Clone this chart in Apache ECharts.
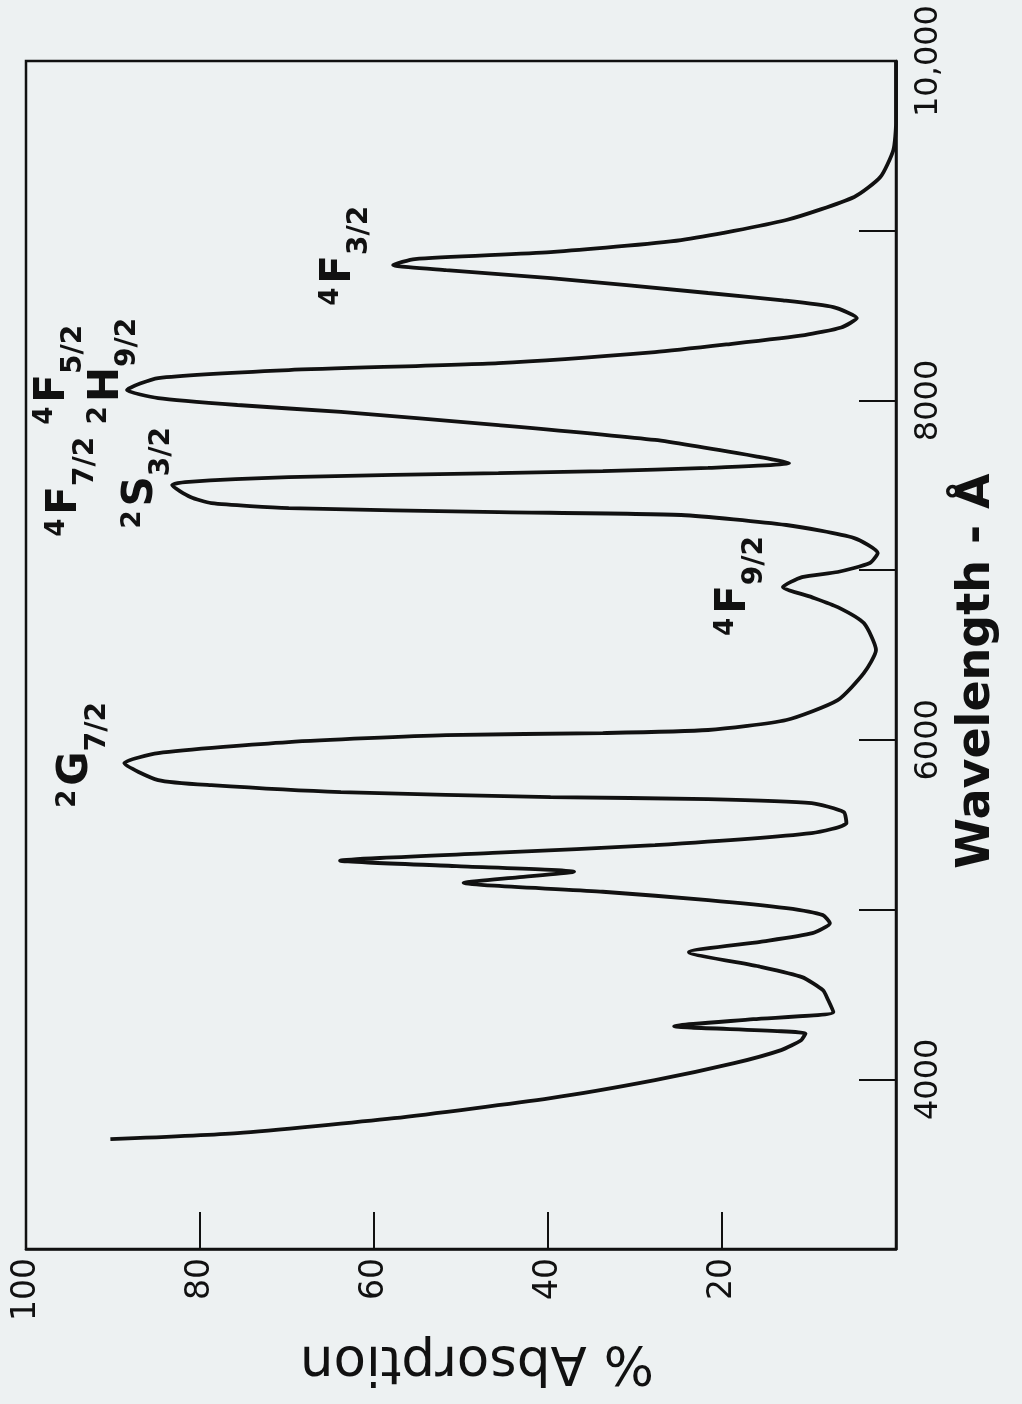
<!DOCTYPE html>
<html>
<head>
<meta charset="utf-8">
<script src="https://cdn.jsdelivr.net/npm/echarts@6/dist/echarts.min.js"></script>
<style>
  html, body { margin: 0; padding: 0; background: #edf1f2; }
  #chart { width: 1022px; height: 1404px; }
</style>
</head>
<body>
<div id="chart"></div>
<script>
// Spectrum trace: wavelength (Å) and % absorption
const wavelength = [3647, 3683, 3771, 3889, 3995, 4095, 4172, 4230, 4270, 4313, 4354, 4396, 4467, 4525, 4602, 4663, 4749, 4810, 4861, 4920, 4967, 5008, 5056, 5105, 5158, 5190, 5223, 5256, 5288, 5335, 5380, 5451, 5509, 5574, 5627, 5651, 5663, 5692, 5733, 5763, 5863, 5922, 5987, 6028, 6040, 6058, 6117, 6234, 6393, 6529, 6688, 6782, 6841, 6900, 6959, 6989, 7042, 7101, 7189, 7266, 7325, 7342, 7366, 7395, 7431, 7501, 7519, 7548, 7572, 7584, 7602, 7631, 7666, 7767, 7855, 7932, 7973, 8014, 8061, 8132, 8179, 8220, 8285, 8330, 8385, 8430, 8485, 8550, 8590, 8633, 8721, 8768, 8798, 8833, 8874, 8945, 9063, 9199, 9316, 9476, 9635, 10000];
const absorption = [90.3, 75.7, 57.7, 39.7, 27.7, 18.6, 13.2, 10.9, 10.4, 25.5, 16.4, 7.2, 7.8, 8.4, 10.8, 15.6, 23.8, 15.6, 9.6, 7.6, 8.4, 12.6, 21.6, 33.7, 49.7, 43.5, 37.0, 50.5, 63.9, 45.7, 27.7, 9.7, 5.7, 6.0, 9.7, 21.6, 39.7, 63.8, 78.7, 84.8, 88.7, 84.8, 69.8, 51.7, 33.7, 21.6, 12.6, 6.7, 3.7, 2.3, 3.7, 6.7, 9.7, 13.0, 10.8, 6.7, 3.0, 2.1, 4.8, 12.6, 24.7, 45.7, 69.8, 78.7, 81.1, 83.2, 81.7, 69.8, 45.7, 33.7, 21.6, 12.3, 15.6, 27.7, 45.7, 63.8, 75.7, 84.8, 88.4, 84.8, 69.8, 45.7, 27.7, 19.5, 10.5, 6.3, 4.5, 7.2, 13.0, 21.6, 39.7, 51.7, 57.8, 55.3, 39.7, 24.7, 12.6, 4.8, 1.8, 0.3, 0, 0];

// Level annotations: [superscript, letter, subscript]
const levelSup = ['2', '4', '4', '2', '2', '4', '4'];
const levelLetter = ['G', 'F', 'F', 'H', 'S', 'F', 'F'];
const levelSub = ['7/2', '7/2', '5/2', '9/2', '3/2', '9/2', '3/2'];
const levelWavelength = [5910, 7490, 8150, 8173, 7543, 6906, 8851];
const levelAbsorption = [93.4, 94.7, 96.1, 89.9, 86.0, 17.8, 63.2];

// Tick labels
const absorptionTickLabels = { 100: '100', 80: '80', 60: '60', 40: '40', 20: '20' };
const wavelengthTickLabels = { 4000: '4000', 6000: '6000', 8000: '8000', 10000: '10,000' };

const curve = wavelength.map((w, i) => [absorption[i], w]);
const levels = levelWavelength.map((w, i) => ({
  value: [levelAbsorption[i], w],
  sup: levelSup[i], letter: levelLetter[i], sub: levelSub[i]
}));

const ink = '#111111';
const font = 'DejaVu Sans';

const chart = echarts.init(document.getElementById('chart'), null, { renderer: 'canvas' });
chart.setOption({
  backgroundColor: '#edf1f2',
  animation: false,
  grid: {
    left: 26, right: 126, top: 61, bottom: 155,
    show: true, borderColor: ink, borderWidth: 2.5, backgroundColor: 'transparent'
  },
  xAxis: {
    type: 'value', min: 0, max: 100, interval: 20, inverse: true, position: 'bottom',
    axisLine: { show: true, lineStyle: { color: ink, width: 2.5 } },
    axisTick: { show: true, inside: true, length: 37, lineStyle: { color: ink, width: 2 } },
    splitLine: { show: false },
    axisLabel: {
      rotate: 90, margin: 9, fontSize: 33, color: ink, fontFamily: font,
      formatter: v => absorptionTickLabels[v] || ''
    },
    name: '% Absorption', nameLocation: 'middle', nameRotate: 180, nameGap: 85,
    nameTextStyle: { fontSize: 53, color: ink, fontFamily: font, padding: [0, 32, 0, 0] }
  },
  yAxis: {
    type: 'value', min: 3000, max: 10000, interval: 1000, position: 'right',
    axisLine: { show: true, lineStyle: { color: ink, width: 2.5 } },
    axisTick: { show: true, inside: true, length: 37, lineStyle: { color: ink, width: 2 } },
    splitLine: { show: false },
    axisLabel: {
      rotate: 90, margin: 17, fontSize: 32, color: ink, fontFamily: font,
      formatter: v => wavelengthTickLabels[v] || ''
    },
    name: 'Wavelength - Å', nameLocation: 'middle', nameRotate: 90, nameGap: 58,
    nameTextStyle: { fontSize: 46, color: ink, fontFamily: font, fontWeight: 'bold', padding: [0, 32, 0, 0] }
  },
  series: [
    {
      type: 'line', data: curve, showSymbol: false, smooth: 0.2,
      lineStyle: { color: ink, width: 3.8 }, clip: false
    },
    {
      type: 'scatter', data: levels, symbolSize: 1,
      itemStyle: { color: 'rgba(0,0,0,0)', opacity: 1 },
      label: {
        show: true, position: 'inside', rotate: 90, color: ink, fontFamily: font, opacity: 1,
        formatter: p => '{sp| }{sup|' + p.data.sup + '}{main|' + p.data.letter + '}{sub|' + p.data.sub + '}',
        rich: {
          sp: { fontSize: 1, lineHeight: 56 },
          sup: { fontSize: 26, lineHeight: 28, verticalAlign: 'top', color: ink, fontFamily: font, fontWeight: 'bold', padding: [0, 4, 0, 0] },
          main: { fontSize: 42, lineHeight: 44, verticalAlign: 'top', color: ink, fontFamily: font, fontWeight: 'bold' },
          sub: { fontSize: 28, lineHeight: 28, verticalAlign: 'bottom', color: ink, fontFamily: font, fontWeight: 'bold' }
        }
      }
    }
  ]
});
</script>
</body>
</html>
